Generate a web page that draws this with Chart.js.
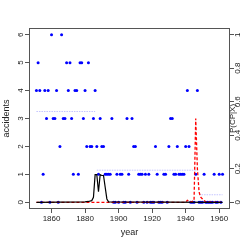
<!DOCTYPE html>
<html>
<head>
<meta charset="utf-8">
<script src="https://cdn.jsdelivr.net/npm/chart.js@4.4.1/dist/chart.umd.min.js"></script>
<style>
  html, body { margin: 0; padding: 0; background: #fff; }
  #wrap { width: 245px; height: 245px; }
</style>
</head>
<body>
<div id="wrap"><canvas id="myChart" width="245" height="245"></canvas></div>
<script>
// yearly accident counts, 1851 .. 1962
const firstYear = 1851;
const accidents = [
  4, 5, 4, 0, 1, 4, 3, 4, 0, 6, 3, 3, 4, 0, 2, 6,
  3, 3, 5, 4, 5, 3, 1, 4, 4, 1, 5, 5, 3, 4, 2, 5,
  2, 2, 3, 4, 2, 1, 3, 2, 2, 1, 1, 1, 1, 3, 0, 0,
  1, 0, 1, 1, 0, 0, 3, 1, 0, 3, 2, 2, 0, 1, 1, 1,
  0, 1, 0, 1, 0, 0, 0, 2, 1, 0, 0, 0, 1, 1, 0, 2,
  3, 3, 1, 1, 2, 1, 1, 1, 1, 2, 4, 2, 0, 0, 0, 1,
  4, 0, 0, 0, 1, 0, 0, 0, 0, 0, 1, 0, 0, 1, 0, 1
];

// segment means (dotted lines)
const segStart = [1851, 1887, 1948];
const segEnd = [1886, 1947, 1962];
const segMean = [3.25, 1.15, 0.27];

// P(CP|X), black curve
const blackYears = [1851, 1880, 1882, 1884, 1885, 1886, 1887, 1888, 1889, 1890, 1891, 1892, 1893, 1894, 1962];
const blackProb = [0, 0.002, 0.005, 0.01, 0.03, 0.165, 0.165, 0.063, 0.165, 0.16, 0.16, 0.09, 0.02, 0.003, 0];

// P(CP|X), red dashed curve
const redYears = [1851, 1940, 1941, 1942, 1943, 1944, 1945, 1946, 1947, 1948, 1949, 1950, 1951, 1952, 1962];
const redProb = [0, 0, 0.012, 0.006, 0.003, 0.005, 0.01, 0.5, 0.2, 0.06, 0.03, 0.02, 0.01, 0.002, 0];

const xTicks = [1860, 1880, 1900, 1920, 1940, 1960];
const yTicks = [0, 1, 2, 3, 4, 5, 6];
const pTicks = [0, 0.2, 0.4, 0.6, 0.8, 1];

const years = accidents.map((v, i) => firstYear + i);
const pts = accidents.map((v, i) => ({ x: years[i], y: v }));

const segData = [];
for (let i = 0; i < segMean.length; i++) {
  segData.push({ x: segStart[i], y: segMean[i] });
  segData.push({ x: segEnd[i], y: segMean[i] });
  segData.push({ x: segEnd[i], y: null });
}

const FONT = "Liberation Sans, Arial, Helvetica, sans-serif";
const AXIS = "#555555";

// rotated y tick labels, box and axis titles (R style)
const rStyle = {
  id: "rStyle",
  afterDraw(chart) {
    const ctx = chart.ctx;
    const a = chart.chartArea;
    ctx.save();
    ctx.strokeStyle = AXIS;
    ctx.lineWidth = 1;
    ctx.strokeRect(a.left + 0.5, a.top + 0.5, a.right - a.left - 1, a.bottom - a.top - 1);

    ctx.fillStyle = "#222";
    ctx.font = "8px " + FONT;
    ctx.textAlign = "center";
    ctx.textBaseline = "middle";
    const y = chart.scales.y;
    yTicks.forEach((t) => {
      ctx.save();
      ctx.translate(20.5, y.getPixelForValue(t));
      ctx.rotate(-Math.PI / 2);
      ctx.fillText(String(t), 0, 0);
      ctx.restore();
    });
    const p = chart.scales.p;
    pTicks.forEach((t) => {
      ctx.save();
      ctx.translate(238, p.getPixelForValue(t));
      ctx.rotate(-Math.PI / 2);
      ctx.fillText(String(t), 0, 0);
      ctx.restore();
    });

    ctx.font = "9px " + FONT;
    ctx.save();
    ctx.translate(7, (a.top + a.bottom) / 2);
    ctx.rotate(-Math.PI / 2);
    ctx.fillText("accidents", 0, 0);
    ctx.restore();

    ctx.font = "8px " + FONT;
    ctx.save();
    ctx.translate(233, (a.top + a.bottom) / 2);
    ctx.rotate(-Math.PI / 2);
    ctx.fillText("P(CP|X)", 0, 0);
    ctx.restore();

    ctx.font = "9px " + FONT;
    ctx.fillText("year", (a.left + a.right) / 2, 233);
    ctx.restore();
  }
};

const ctx = document.getElementById("myChart").getContext("2d");
const myChart = new Chart(ctx, {
  type: "scatter",
  data: {
    datasets: [
      {
        label: "black",
        data: blackYears.map((yr, i) => ({ x: yr, y: blackProb[i] })),
        yAxisID: "p",
        showLine: true,
        borderColor: "#000000",
        borderWidth: 1.2,
        pointRadius: 0,
      },
      {
        label: "red",
        data: redYears.map((yr, i) => ({ x: yr, y: redProb[i] })),
        yAxisID: "p",
        showLine: true,
        borderColor: "#ff0000",
        borderWidth: 1.3,
        borderDash: [3, 2],
        pointRadius: 0,
      },
      {
        label: "means",
        data: segData,
        yAxisID: "y",
        showLine: true,
        spanGaps: false,
        borderColor: "#c4c4ff",
        borderWidth: 1,
        borderDash: [1.5, 1],
        pointRadius: 0,
      },
      {
        label: "accidents",
        data: pts,
        yAxisID: "y",
        backgroundColor: "#0000ff",
        borderColor: "#0000ff",
        pointRadius: 1.5,
        borderWidth: 0,
      },
    ],
  },
  options: {
    responsive: false,
    animation: false,
    devicePixelRatio: 1,
    layout: { padding: { top: 28, left: 0, right: 0, bottom: 0 } },
    plugins: { legend: { display: false }, tooltip: { enabled: false } },
    scales: {
      x: {
        type: "linear",
        min: 1846.56,
        max: 1966.44,
        afterBuildTicks: (s) => { s.ticks = xTicks.map((v) => ({ value: v })); },
        afterFit: (s) => { s.height = 36; },
        grid: { drawOnChartArea: false, tickLength: 4, color: AXIS },
        border: { display: false },
        ticks: {
          font: { size: 8, family: FONT },
          color: "#222",
          padding: 1,
          maxRotation: 0,
          callback: (v) => String(v),
        },
      },
      y: {
        position: "left",
        min: -0.24,
        max: 6.24,
        afterBuildTicks: (s) => { s.ticks = yTicks.map((v) => ({ value: v })); },
        afterFit: (s) => { s.width = 29; },
        grid: { drawOnChartArea: false, tickLength: 4, color: AXIS },
        border: { display: false },
        ticks: { display: false },
      },
      p: {
        position: "right",
        min: -0.04,
        max: 1.04,
        afterBuildTicks: (s) => { s.ticks = pTicks.map((v) => ({ value: v })); },
        afterFit: (s) => { s.width = 15; },
        grid: { drawOnChartArea: false, tickLength: 4, color: AXIS },
        border: { display: false },
        ticks: { display: false },
      },
    },
  },
  plugins: [rStyle],
});
</script>
</body>
</html>
